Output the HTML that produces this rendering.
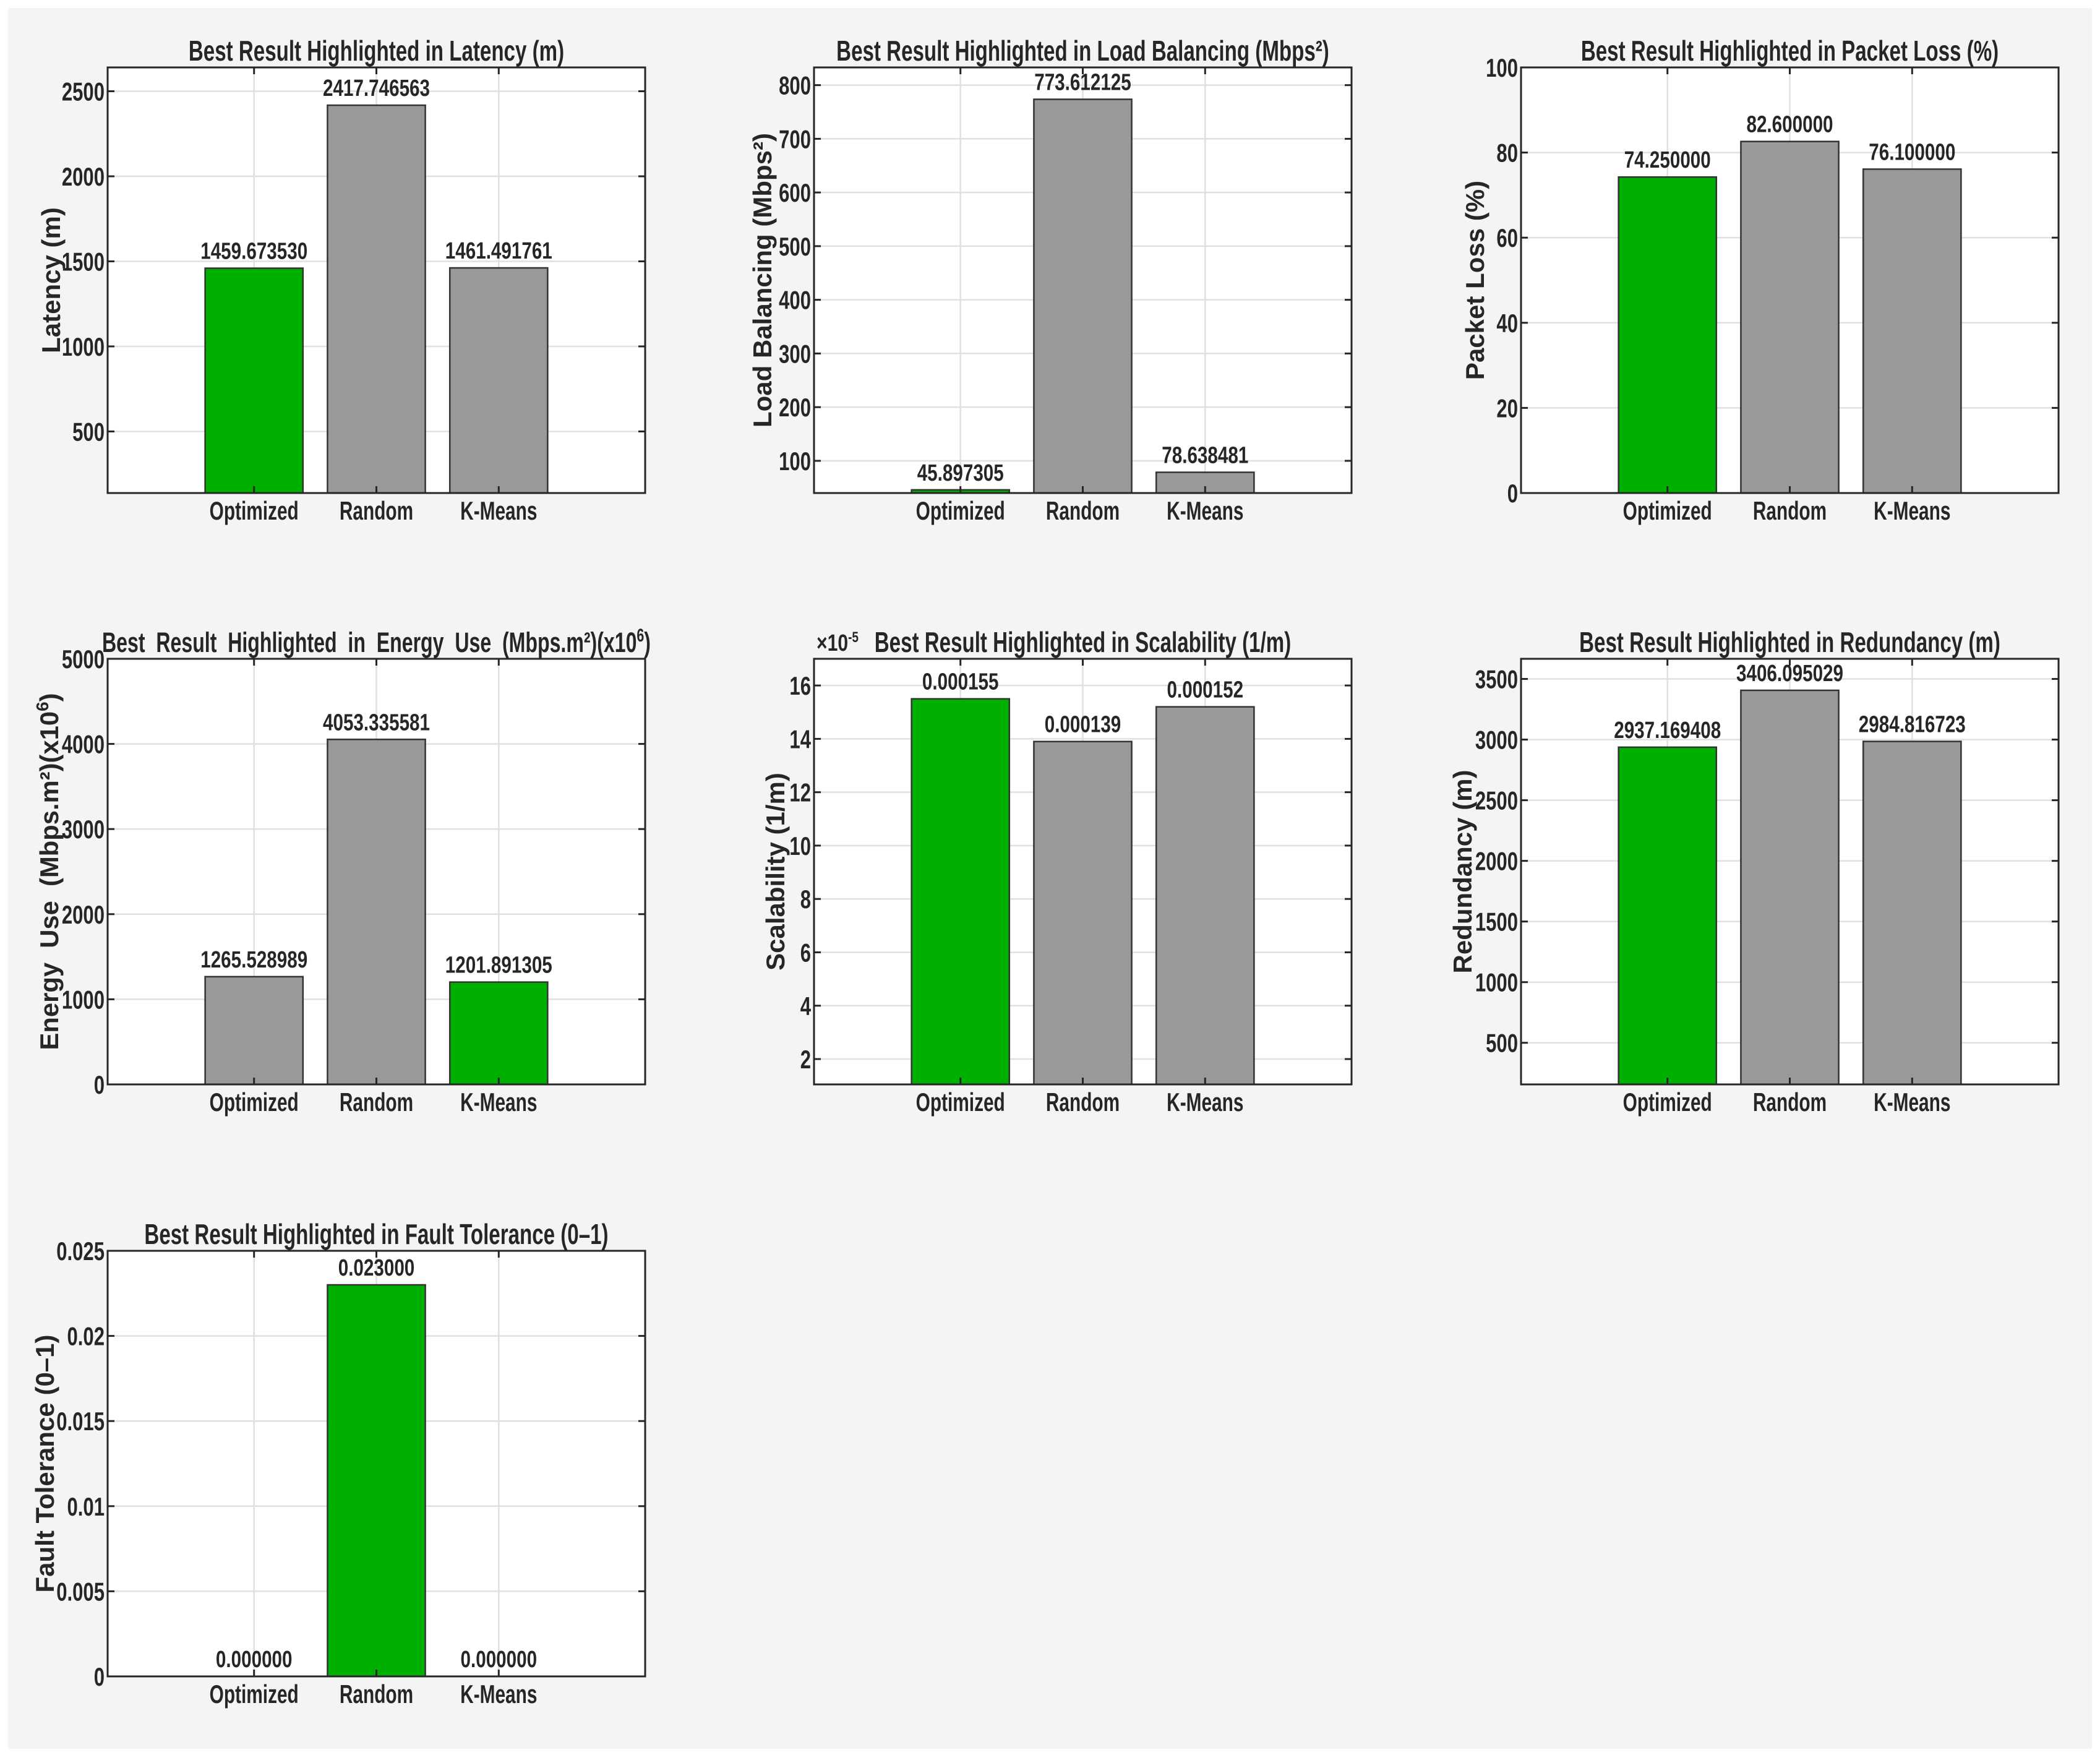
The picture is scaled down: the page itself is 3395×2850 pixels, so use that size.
<!DOCTYPE html>
<html><head><meta charset="utf-8"><style>
html,body{margin:0;padding:0;background:#fff;}
svg{display:block;}
text{font-family:"Liberation Sans",sans-serif;font-weight:bold;fill:#262626;white-space:pre;}
</style></head><body>
<svg id="fig" width="3395" height="2850" xmlns="http://www.w3.org/2000/svg">
<rect x="13" y="13" width="3369" height="2814" fill="#f4f4f4"/>
</svg>
<script>
const categories = ["Optimized", "Random", "K-Means"];
const latencyValues = [1459.673530, 2417.746563, 1461.491761];
const latencyLabels = ["1459.673530", "2417.746563", "1461.491761"];
const loadValues = [45.897305, 773.612125, 78.638481];
const loadLabels = ["45.897305", "773.612125", "78.638481"];
const packetValues = [74.25, 82.6, 76.1];
const packetLabels = ["74.250000", "82.600000", "76.100000"];
const energyValues = [1265.528989, 4053.335581, 1201.891305];
const energyLabels = ["1265.528989", "4053.335581", "1201.891305"];
const scalValues = [15.5, 13.9, 15.2];
const scalLabels = ["0.000155", "0.000139", "0.000152"];
const redValues = [2937.169408, 3406.095029, 2984.816723];
const redLabels = ["2937.169408", "3406.095029", "2984.816723"];
const faultValues = [0, 0.023, 0];
const faultLabels = ["0.000000", "0.023000", "0.000000"];
const latencyTicks = [500, 1000, 1500, 2000, 2500];
const loadTicks = [100, 200, 300, 400, 500, 600, 700, 800];
const packetTicks = [0, 20, 40, 60, 80, 100];
const energyTicks = [0, 1000, 2000, 3000, 4000, 5000];
const scalTicks = [2, 4, 6, 8, 10, 12, 14, 16];
const redTicks = [500, 1000, 1500, 2000, 2500, 3000, 3500];
const faultTicks = [0, 0.005, 0.01, 0.015, 0.02, 0.025];
const faultTickLabels = ["0", "0.005", "0.01", "0.015", "0.02", "0.025"];
const latencyBest = [1, 0, 0];
const loadBest = [1, 0, 0];
const packetBest = [1, 0, 0];
const energyBest = [0, 0, 1];
const scalBest = [1, 0, 0];
const redBest = [1, 0, 0];
const faultBest = [0, 1, 0];

const NS = "http://www.w3.org/2000/svg";
const fig = document.getElementById("fig");
function mk(tag, parent) { const e = document.createElementNS(NS, tag); parent.appendChild(e); return e; }
function txt(parent, x, y, s, size, anchor, sx) {
  const g = mk("g", parent);
  g.setAttribute("transform", `translate(${x},${y}) scale(${sx},1)`);
  const t = mk("text", g);
  t.setAttribute("font-size", size);
  t.setAttribute("text-anchor", anchor);
  t.textContent = s;
  return t;
}

const W = 869, H = 688;
const panels = [
  {key:"latency", left:174, top:109, ylim:[138,2640], vals:latencyValues, labels:latencyLabels, ticks:latencyTicks, best:latencyBest, title:"Best Result Highlighted in Latency (m)", ylabel:"Latency (m)", yoff:92},
  {key:"load-balancing", left:1316, top:109, ylim:[40,833], vals:loadValues, labels:loadLabels, ticks:loadTicks, best:loadBest, title:"Best Result Highlighted in Load Balancing (Mbps²)", ylabel:"Load Balancing (Mbps²)", yoff:84},
  {key:"packet-loss", left:2459, top:109, ylim:[0,100], vals:packetValues, labels:packetLabels, ticks:packetTicks, best:packetBest, title:"Best Result Highlighted in Packet Loss (%)", ylabel:"Packet Loss (%)", yoff:75},
  {key:"energy-use", left:174, top:1065, ylim:[0,5000], vals:energyValues, labels:energyLabels, ticks:energyTicks, best:energyBest, title:"ENERGY", ylabel:"ENERGY", yoff:95},
  {key:"scalability", left:1316, top:1065, ylim:[1.05,17], vals:scalValues, labels:scalLabels, ticks:scalTicks, best:scalBest, title:"Best Result Highlighted in Scalability (1/m)", ylabel:"Scalability (1/m)", yoff:63, exp:true},
  {key:"redundancy", left:2459, top:1065, ylim:[157,3666], vals:redValues, labels:redLabels, ticks:redTicks, best:redBest, title:"Best Result Highlighted in Redundancy (m)", ylabel:"Redundancy (m)", yoff:95},
  {key:"fault-tolerance", left:174, top:2022, ylim:[0,0.025], vals:faultValues, labels:faultLabels, ticks:faultTicks, tickLabels:faultTickLabels, best:faultBest, title:"Best Result Highlighted in Fault Tolerance (0–1)", ylabel:"Fault Tolerance (0–1)", yoff:102}
];

panels.forEach(p => {
  const g = mk("g", fig);
  
  
  const L = p.left, T = p.top, B = T + H, R = L + W;
  const yS = v => B - (v - p.ylim[0]) / (p.ylim[1] - p.ylim[0]) * H;
  const xS = i => L + W * (0.2724 + i * 0.2276);
  const bw = W * 0.182;
  const bg = mk("rect", g);
  
  
  bg.setAttribute("x", L); bg.setAttribute("y", T); bg.setAttribute("width", W); bg.setAttribute("height", H); bg.setAttribute("fill", "#fff");
  p.ticks.forEach((t, k) => {
    const y = yS(t);
    const gl = mk("line", g);
    
    
    gl.setAttribute("x1", L); gl.setAttribute("x2", R); gl.setAttribute("y1", y); gl.setAttribute("y2", y);
    gl.setAttribute("stroke", "#e0e0e0"); gl.setAttribute("stroke-width", 2.5);
  });
  categories.forEach((c, i) => {
    const gl = mk("line", g);
    
    
    gl.setAttribute("x1", xS(i)); gl.setAttribute("x2", xS(i)); gl.setAttribute("y1", T); gl.setAttribute("y2", B);
    gl.setAttribute("stroke", "#e0e0e0"); gl.setAttribute("stroke-width", 2.5);
  });
  p.vals.forEach((v, i) => {
    const yt = yS(Math.max(v, p.ylim[0]));
    const r = mk("rect", g);
    
    
    r.setAttribute("x", xS(i) - bw / 2); r.setAttribute("y", yt);
    r.setAttribute("width", bw); r.setAttribute("height", Math.max(B - yt, 0));
    r.setAttribute("fill", p.best[i] ? "#00b000" : "#999999");
    r.setAttribute("stroke", "#333"); r.setAttribute("stroke-width", 2.5);
    const lb = txt(g, xS(i), Math.min(yt, B) - 15, p.labels[i], 38, "middle", 0.78);
    
    
  });
  const fr = mk("rect", g);
  
  
  fr.setAttribute("x", L); fr.setAttribute("y", T); fr.setAttribute("width", W); fr.setAttribute("height", H);
  fr.setAttribute("fill", "none"); fr.setAttribute("stroke", "#262626"); fr.setAttribute("stroke-width", 3);
  p.ticks.forEach((t, k) => {
    const y = yS(t);
    [[L, L + 11], [R, R - 11]].forEach(([a, b]) => {
      const tk = mk("line", g);
      
      
      tk.setAttribute("x1", a); tk.setAttribute("x2", b); tk.setAttribute("y1", y); tk.setAttribute("y2", y);
      tk.setAttribute("stroke", "#262626"); tk.setAttribute("stroke-width", 3);
    });
    const s = p.tickLabels ? p.tickLabels[k] : String(t);
    const tl = txt(g, L - 5, y + 15, s, 42, "end", 0.74);
    
    
  });
  categories.forEach((c, i) => {
    [[B, B - 11], [T, T + 11]].forEach(([a, b]) => {
      const tk = mk("line", g);
      
      
      tk.setAttribute("x1", xS(i)); tk.setAttribute("x2", xS(i)); tk.setAttribute("y1", a); tk.setAttribute("y2", b);
      tk.setAttribute("stroke", "#262626"); tk.setAttribute("stroke-width", 3);
    });
    const xl = txt(g, xS(i), B + 43, c, 42, "middle", 0.71);
    
    
  });
  let tt;
  if (p.title === "ENERGY") {
    tt = mk("text", g);
    tt.setAttribute("x", 165); tt.setAttribute("y", T - 11); tt.setAttribute("font-size", 45);
    tt.setAttribute("textLength", 887); tt.setAttribute("lengthAdjust", "spacingAndGlyphs");
    tt.innerHTML = 'Best  Result  Highlighted  in  Energy  Use  (Mbps.m²)(x10<tspan font-size="30" dy="-17">6</tspan><tspan dy="17">)</tspan>';
  } else {
    tt = txt(g, L + W / 2, T - 11, p.title, 46, "middle", 0.72);
  }
  
  
  if (p.exp) {
    const ex = mk("text", g);
    
    
    ex.setAttribute("x", 1320); ex.setAttribute("y", T - 13); ex.setAttribute("font-size", 38);
    ex.setAttribute("textLength", 68); ex.setAttribute("lengthAdjust", "spacingAndGlyphs");
    ex.innerHTML = '×10<tspan font-size="24" dy="-14">-5</tspan>';
  }
  const yl = mk("text", g);
  
  
  const cx = L - p.yoff + 15, cy = T + H / 2;
  yl.setAttribute("transform", `translate(${cx},${cy}) rotate(-90)`);
  yl.setAttribute("text-anchor", "middle");
  yl.setAttribute("font-size", 42);
  if (p.ylabel === "ENERGY") {
    yl.setAttribute("textLength", 577); yl.setAttribute("lengthAdjust", "spacingAndGlyphs");
    yl.innerHTML = 'Energy  Use  (Mbps.m²)(x10<tspan font-size="28" dy="-16">6</tspan><tspan dy="16">)</tspan>';
  } else {
    yl.textContent = p.ylabel;
  }
});
</script>
</body></html>
